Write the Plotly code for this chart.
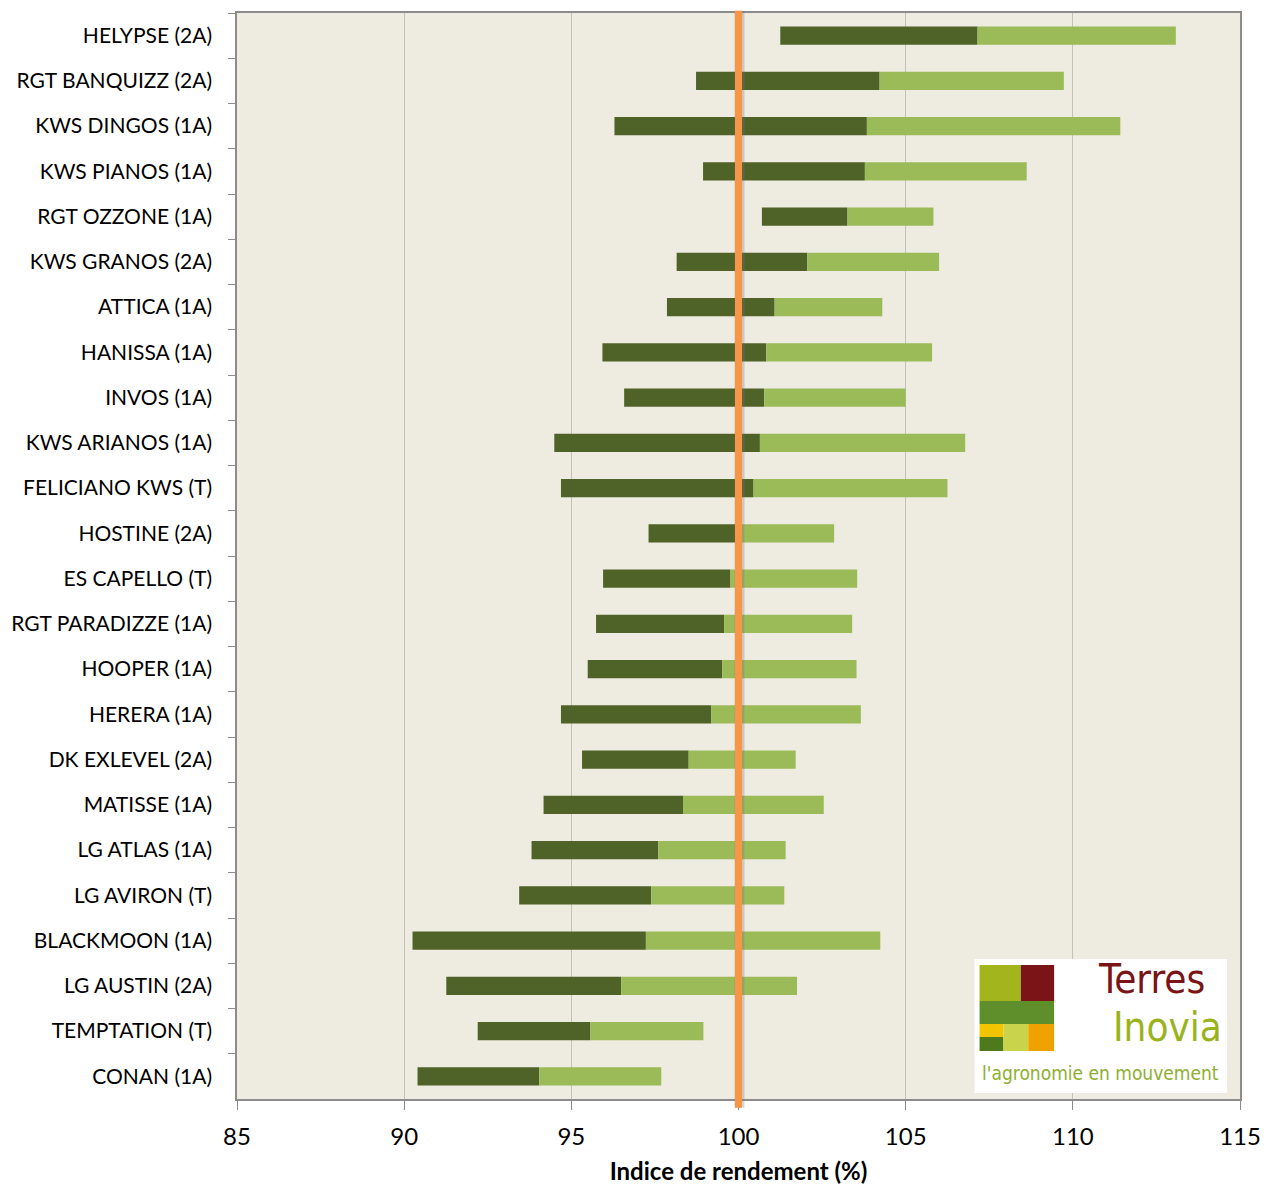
import plotly.graph_objects as go

varieties = ["HELYPSE (2A)", "RGT BANQUIZZ (2A)", "KWS DINGOS (1A)", "KWS PIANOS (1A)",
             "RGT OZZONE (1A)", "KWS GRANOS (2A)", "ATTICA (1A)", "HANISSA (1A)",
             "INVOS (1A)", "KWS ARIANOS (1A)", "FELICIANO KWS (T)", "HOSTINE (2A)",
             "ES CAPELLO (T)", "RGT PARADIZZE (1A)", "HOOPER (1A)", "HERERA (1A)",
             "DK EXLEVEL (2A)", "MATISSE (1A)", "LG ATLAS (1A)", "LG AVIRON (T)",
             "BLACKMOON (1A)", "LG AUSTIN (2A)", "TEMPTATION (T)", "CONAN (1A)"]
min_vals = [101.25, 98.73, 96.29, 98.94, 100.70, 98.15, 97.86, 95.93, 96.58, 94.49, 94.69, 97.31,
            95.95, 95.74, 95.49, 94.69, 95.32, 94.17, 93.81, 93.44, 90.25, 91.26, 92.20, 90.40]
mean_vals = [107.15, 104.22, 103.84, 103.78, 103.26, 102.06, 101.08, 100.83, 100.77, 100.64, 100.45, 99.95,
             99.76, 99.57, 99.51, 99.18, 98.51, 98.34, 97.60, 97.39, 97.23, 96.49, 95.57, 94.04]
max_vals = [113.08, 109.73, 111.42, 108.62, 105.83, 106.00, 104.30, 105.79, 105.00, 106.78, 106.25, 102.86,
            103.55, 103.40, 103.53, 103.66, 101.71, 102.55, 101.41, 101.37, 104.24, 101.75, 98.95, 97.69]
x_ticks = [85, 90, 95, 100, 105, 110, 115]
reference_value = 100

DARK = "#4F6228"
LIGHT = "#9BBB59"
FONT = "Lato, Carlito, Calibri, sans-serif"

W, H = 1263, 1177
ML, MR, MT, MB = 220, 31, 3, 84
# plot area in screenshot pixels (used for placing the logo decoration)
L, R, T, B = 231, 1240, 11, 1097


def px(x):
    return (x - L) / (R - L)


def py(y):
    return (B - y) / (B - T)


fig = go.Figure()
fig.add_trace(go.Bar(
    y=varieties, x=[m - n for m, n in zip(mean_vals, min_vals)], base=min_vals,
    orientation="h", width=0.4, marker=dict(color=DARK, line=dict(width=0)),
    showlegend=False, hoverinfo="skip"))
fig.add_trace(go.Bar(
    y=varieties, x=[mx - m for mx, m in zip(max_vals, mean_vals)], base=mean_vals,
    orientation="h", width=0.4, marker=dict(color=LIGHT, line=dict(width=0)),
    showlegend=False, hoverinfo="skip"))

# reference line at 100 (shadow + line)
fig.add_shape(type="line", xref="x", yref="paper", x0=reference_value + 0.03, x1=reference_value + 0.03,
              y0=-0.008, y1=1.002, line=dict(color="rgba(120,120,120,0.3)", width=10), layer="above")
fig.add_shape(type="line", xref="x", yref="paper", x0=reference_value, x1=reference_value,
              y0=-0.008, y1=1.002, line=dict(color="#F79646", width=7), layer="above")


# Logo (decoration)
def rect(x0, y0, x1, y1, color):
    fig.add_shape(type="rect", xref="paper", yref="paper", x0=px(x0), x1=px(x1), y0=py(y1), y1=py(y0),
                  fillcolor=color, line=dict(width=0), layer="above")


rect(973, 957, 1227, 1091, "white")
rect(978, 963, 1019.5, 999, "#A2B51A")
rect(1019.5, 963, 1053, 999, "#7A1417")
rect(978, 999, 1053, 1022, "#5E8F2B")
rect(978, 1022, 1002, 1035, "#F3C400")
rect(978, 1035, 1002, 1049, "#4E7A1B")
rect(1002, 1022, 1027, 1049, "#C9D44A")
rect(1027, 1022, 1053, 1049, "#EFA100")
LOGO_FONT = "Liberation Sans Narrow, DejaVu Sans Condensed, Lato, sans-serif"
fig.add_annotation(xref="paper", yref="paper", x=px(1207), y=py(977), text="Terres", showarrow=False,
                   font=dict(family=LOGO_FONT, size=40, color="#7A1417"), xanchor="right", yanchor="middle")
fig.add_annotation(xref="paper", yref="paper", x=px(1224), y=py(1025), text="Inovia", showarrow=False,
                   font=dict(family=LOGO_FONT, size=40, color="#9BB31B"), xanchor="right", yanchor="middle")
fig.add_annotation(xref="paper", yref="paper", x=px(1100), y=py(1071), text="l'agronomie en mouvement",
                   showarrow=False, font=dict(family=LOGO_FONT, size=19, color="#8DB030"),
                   xanchor="center", yanchor="middle")

fig.update_layout(
    width=W, height=H,
    margin=dict(l=ML, r=MR, t=MT, b=MB, pad=0),
    paper_bgcolor="white", plot_bgcolor="#EEEBE0",
    barmode="overlay", bargap=0.6,
    font=dict(family=FONT, size=20, color="black"),
)
fig.update_xaxes(
    range=[x_ticks[0], x_ticks[-1]], tickvals=x_ticks, ticktext=[str(v) for v in x_ticks],
    showgrid=True, gridcolor="#C3C1BA", gridwidth=1, zeroline=False,
    showline=True, linecolor="#8C8C8C", linewidth=1.5, mirror=True,
    ticks="outside", ticklen=9, tickcolor="#8C8C8C", ticklabelstandoff=6,
    tickfont=dict(size=24),
    title=dict(text="<b>Indice de rendement (%)</b>", font=dict(size=24), standoff=16),
)
fig.update_yaxes(
    type="category", categoryorder="array", categoryarray=varieties, autorange="reversed",
    showgrid=False, zeroline=False,
    showline=True, linecolor="#8C8C8C", linewidth=1.5, mirror=True,
    ticks="outside", ticklen=7, tickcolor="#8C8C8C", tickson="boundaries", ticklabelstandoff=19,
    tickfont=dict(size=21),
)

fig.write_html("out.html")
